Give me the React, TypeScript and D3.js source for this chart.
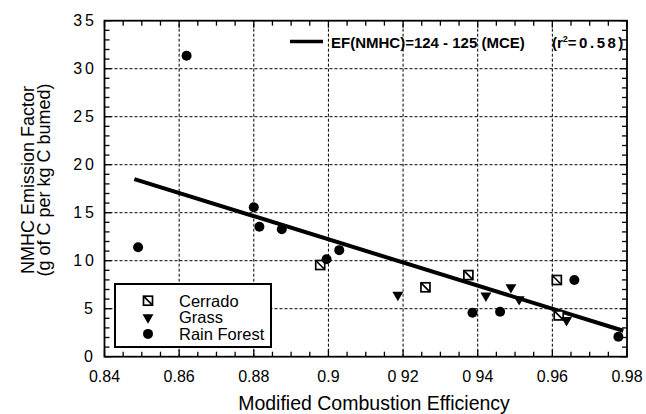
import * as d3 from 'd3';

// Values
const xTicks = [0.84, 0.86, 0.88, 0.9, 0.92, 0.94, 0.96, 0.98];
const xTickLabels = ['0.84', '0.86', '0.88', '0.9', '0 92', '0 94', '0.96', '0.98'];
const yTicks = [0, 5, 10, 15, 20, 25, 30, 35];
const yTickLabels = ['0', '5', '10', '15', '20', '25', '30', '35'];

const rainForestX = [0.849, 0.862, 0.88, 0.8815, 0.8875, 0.8995, 0.9029, 0.9386, 0.946, 0.9659, 0.9777];
const rainForestY = [11.4, 31.35, 15.56, 13.54, 13.27, 10.15, 11.1, 4.58, 4.69, 7.99, 2.08];
const cerradoX = [0.8978, 0.926, 0.9375, 0.9612, 0.9617];
const cerradoY = [9.55, 7.23, 8.5, 7.99, 4.3];
const grassX = [0.9186, 0.9422, 0.9489, 0.9511, 0.9638];
const grassY = [6.43, 6.35, 7.23, 5.98, 3.8];

// fitted line as drawn
const fitX = [0.848, 0.979];
const fitY = [18.5, 2.7];

const categories = ['Cerrado', 'Grass', 'Rain Forest'];

const W = 646;
const H = 414;
const FONT = "'Liberation Sans', Arial, Helvetica, sans-serif";

export default function App() {
  const x = d3.scaleLinear().domain([0.84, 0.98]).range([104.5, 627]);
  const y = d3.scaleLinear().domain([0, 35]).range([356.7, 20.7]);
  const [x0, x1] = x.range();
  const [y0, y1] = y.range();

  const xMinor = d3.range(0.84, 0.9801, 0.005);
  const yMinor = d3.range(0, 35.01, 1);

  const line = d3
    .line<number>()
    .x((_, i) => x(fitX[i]))
    .y((d) => y(d));

  const tri = d3.symbol(d3.symbolTriangle, 52)();

  const square = (cx: number, cy: number, key: string) => (
    <g key={key} transform={`translate(${cx},${cy})`}>
      <rect x={-4.5} y={-4.5} width={9} height={9} fill="white" stroke="black" strokeWidth={1.7} />
      <line x1={-4.5} y1={-4.5} x2={4.5} y2={4.5} stroke="black" strokeWidth={1.7} />
    </g>
  );
  const triangle = (cx: number, cy: number, key: string) => (
    <path key={key} d={tri ?? ''} transform={`translate(${cx},${cy}) rotate(180)`} fill="black" />
  );
  const dot = (cx: number, cy: number, key: string) => (
    <circle key={key} cx={cx} cy={cy} r={5} fill="black" />
  );

  return (
    <div style={{ position: 'fixed', left: 0, top: 0 }}>
      <svg width={W} height={H} style={{ display: 'block', background: 'white' }} fontFamily={FONT}>
        {/* grid */}
        {xTicks.slice(1, -1).map((t) => (
          <line key={'gx' + t} x1={x(t)} x2={x(t)} y1={y0} y2={y1} stroke="black" strokeWidth={1} strokeDasharray="3,2" />
        ))}
        {yTicks.slice(1, -1).map((t) => (
          <line key={'gy' + t} x1={x0} x2={x1} y1={y(t)} y2={y(t)} stroke="black" strokeWidth={1} strokeDasharray="3,2" />
        ))}

        {/* minor / major ticks, inward on all four sides */}
        {xMinor.map((t, i) => {
          const len = i % 4 === 0 ? 7 : 5;
          return (
            <g key={'tx' + i}>
              <line x1={x(t)} x2={x(t)} y1={y0} y2={y0 - len} stroke="black" strokeWidth={1.3} />
              <line x1={x(t)} x2={x(t)} y1={y1} y2={y1 + len} stroke="black" strokeWidth={1.3} />
            </g>
          );
        })}
        {yMinor.map((t, i) => {
          const len = i % 5 === 0 ? 7 : 5;
          return (
            <g key={'ty' + i}>
              <line x1={x0} x2={x0 + len} y1={y(t)} y2={y(t)} stroke="black" strokeWidth={1.3} />
              <line x1={x1} x2={x1 - len} y1={y(t)} y2={y(t)} stroke="black" strokeWidth={1.3} />
            </g>
          );
        })}

        {/* regression line */}
        <path d={line(fitY) ?? ''} fill="none" stroke="black" strokeWidth={4} />

        {/* points */}
        {cerradoX.map((v, i) => square(x(v), y(cerradoY[i]), 'c' + i))}
        {grassX.map((v, i) => triangle(x(v), y(grassY[i]), 'g' + i))}
        {rainForestX.map((v, i) => dot(x(v), y(rainForestY[i]), 'r' + i))}

        {/* frame */}
        <rect x={x0} y={y1} width={x1 - x0} height={y0 - y1} fill="none" stroke="black" strokeWidth={1.8} />

        {/* x tick labels */}
        {xTicks.map((t, i) => (
          <text key={'xl' + t} x={x(t)} y={382} textAnchor="middle" fontSize={16}>
            {xTickLabels[i]}
          </text>
        ))}
        {/* y tick labels */}
        {yTicks.map((t, i) => (
          <text key={'yl' + t} x={yTickLabels[i].length > 1 ? 97 : 93} y={y(t) + 5.5} textAnchor="end" fontSize={16} letterSpacing={yTickLabels[i].length > 1 ? 3 : 0}>
            {yTickLabels[i]}
          </text>
        ))}

        {/* axis titles */}
        <text x={374} y={410} textAnchor="middle" fontSize={19.5}>
          Modified Combustion Efficiency
        </text>
        <g transform="translate(34,180) rotate(-90)">
          <text x={0} y={0} textAnchor="middle" fontSize={18}>NMHC Emission Factor</text>
          <text x={0} y={16} textAnchor="middle" fontSize={18}>(g of C per kg C bumed)</text>
        </g>

        {/* fit legend */}
        <line x1={290} x2={323} y1={41.5} y2={41.5} stroke="black" strokeWidth={3.5} />
        <text x={331} y={48} fontSize={15} fontWeight="bold">EF(NMHC)=124 - 125 (MCE)</text>
        <text x={552} y={48} fontSize={15} fontWeight="bold">
          (r<tspan dy={-6} fontSize={9}>2</tspan>
          <tspan dy={6} letterSpacing={2.5}>=0.58)</tspan>
        </text>

        {/* category legend */}
        <rect x={115} y={284} width={156} height={63} fill="white" stroke="black" strokeWidth={2} />
        {categories.map((c, i) => {
          const cy = 300.7 + i * 16.6;
          return (
            <g key={c}>
              {i === 0 ? square(148, cy, 'lc') : i === 1 ? triangle(148, cy, 'lg') : dot(148, cy, 'lr')}
              <text x={179} y={cy + 6} fontSize={16.5}>{c}</text>
            </g>
          );
        })}
      </svg>
    </div>
  );
}
